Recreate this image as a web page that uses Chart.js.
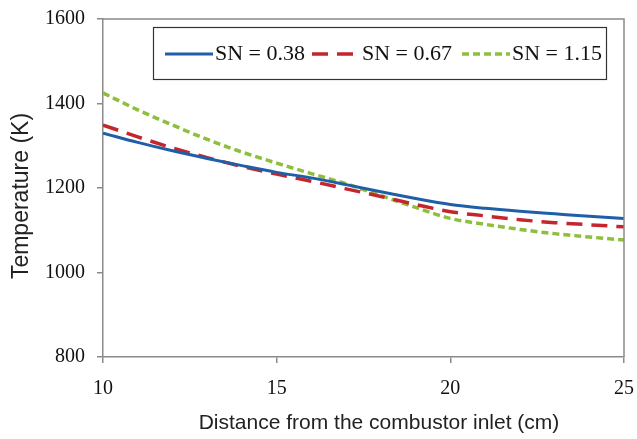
<!DOCTYPE html>
<html>
<head>
<meta charset="utf-8">
<script src="https://cdn.jsdelivr.net/npm/chart.js@4"></script>
<style>
html,body{margin:0;padding:0;background:#fff;}
#wrap{width:637px;height:439px;position:relative;}
</style>
</head>
<body>
<div id="wrap"><canvas id="c" width="637" height="439"></canvas></div>
<script>
const distance = [10,11,12,13,14,15,16,17,18,19,20,21,22,23,24,25];
const sn038 = [1330,1308,1288,1270,1253,1237,1224,1208,1191,1175,1161,1152,1145,1139,1133,1128];
const sn067 = [1349,1321,1295,1272,1251,1233,1216,1198,1180,1161,1144,1134,1125,1118,1113,1108];
const sn115 = [1425,1385,1349,1315,1285,1259,1234,1210,1182,1154,1128,1114,1102,1092,1084,1077];
const seriesLabels = ['SN = 0.38','SN = 0.67','SN = 1.15'];
const xTicks = [10,15,20,25];
const yTicks = [800,1000,1200,1400,1600];
const xTitle = 'Distance from the combustor inlet (cm)';
const yTitle = 'Temperature (K)';

const colors = ['#1f5fa8','#c4262e','#8dbf3c'];
const dashes = [[],[16,9],[7,4]];
const widths = [3,3.5,3.5];

function pts(arr){ return distance.map((x,i)=>({x:x,y:arr[i]})); }
const allSeries = [sn038, sn067, sn115];

const decor = {
  id:'decor',
  afterDraw(chart){
    const ctx = chart.ctx;
    const a = chart.chartArea;
    ctx.save();
    // frame top/right
    ctx.strokeStyle = '#8a8a8a';
    ctx.lineWidth = 1.5;
    ctx.beginPath();
    ctx.moveTo(a.left, a.top); ctx.lineTo(a.right, a.top); ctx.lineTo(a.right, a.bottom);
    ctx.stroke();
    // axis titles
    ctx.fillStyle = '#222';
    ctx.textAlign = 'center';
    ctx.textBaseline = 'middle';
    ctx.font = '21px "Liberation Sans", Arial, sans-serif';
    ctx.fillText(xTitle, 379, 423);
    ctx.save();
    ctx.translate(22, 196);
    ctx.rotate(-Math.PI/2);
    ctx.font = '23px "Liberation Sans", Arial, sans-serif';
    ctx.fillText(yTitle, 0, 0);
    ctx.restore();
    // legend box
    ctx.textAlign = 'left';
    const bx = 153.5, by = 27.5, bw = 453, bh = 52;
    ctx.fillStyle = '#fff';
    ctx.fillRect(bx,by,bw,bh);
    ctx.strokeStyle = '#333';
    ctx.lineWidth = 1.2;
    ctx.strokeRect(bx,by,bw,bh);
    ctx.font = '22px "Liberation Serif", "Times New Roman", serif';
    ctx.fillStyle = '#111';
    const cy = by + bh/2 + 0.5;
    const starts = [165, 312, 462];
    chart.data.datasets.forEach((ds,i)=>{
      const x0 = starts[i];
      ctx.strokeStyle = ds.borderColor;
      ctx.lineWidth = ds.borderWidth;
      ctx.setLineDash(ds.borderDash || []);
      ctx.beginPath();
      ctx.moveTo(x0, cy); ctx.lineTo(x0+48, cy);
      ctx.stroke();
      ctx.setLineDash([]);
      ctx.fillText(ds.label, x0+50, cy);
    });
    ctx.restore();
  }
};

new Chart(document.getElementById('c'), {
  type:'line',
  data:{
    datasets: allSeries.map((s,i)=>({
      label: seriesLabels[i],
      data: pts(s),
      borderColor: colors[i],
      backgroundColor: colors[i],
      borderWidth: widths[i],
      borderDash: dashes[i],
      pointRadius: 0,
      cubicInterpolationMode: 'monotone',
      fill:false
    }))
  },
  options:{
    responsive:false,
    animation:false,
    layout:{padding:{top:19,right:13,left:0,bottom:0}},
    plugins:{legend:{display:false},tooltip:{enabled:false}},
    scales:{
      x:{
        type:'linear', min:10, max:25,
        afterBuildTicks(s){ s.ticks = xTicks.map(v=>({value:v})); },
        afterFit(s){ s.height = 82; s.paddingRight = 0; s.paddingLeft = 0; },
        grid:{drawOnChartArea:false, drawTicks:true, tickLength:6, color:'#8a8a8a', lineWidth:1.5},
        border:{display:true, color:'#8a8a8a', width:1.5},
        ticks:{padding:14, color:'#111', font:{family:'"Liberation Serif", "Times New Roman", serif', size:20}, maxRotation:0,
          callback:(v)=>String(v)},
        title:{display:false, text:xTitle}
      },
      y:{
        type:'linear', min:800, max:1600,
        afterBuildTicks(s){ s.ticks = yTicks.map(v=>({value:v})); },
        afterFit(s){ s.width = 103; s.paddingTop = 0; s.paddingBottom = 0; },
        grid:{drawOnChartArea:false, drawTicks:true, tickLength:6, color:'#8a8a8a', lineWidth:1.5},
        border:{display:true, color:'#8a8a8a', width:1.5},
        ticks:{padding:12, color:'#111', font:{family:'"Liberation Serif", "Times New Roman", serif', size:20},
          callback:(v)=>String(v)},
        title:{display:false, text:yTitle}
      }
    }
  },
  plugins:[decor]
});
</script>
</body>
</html>
